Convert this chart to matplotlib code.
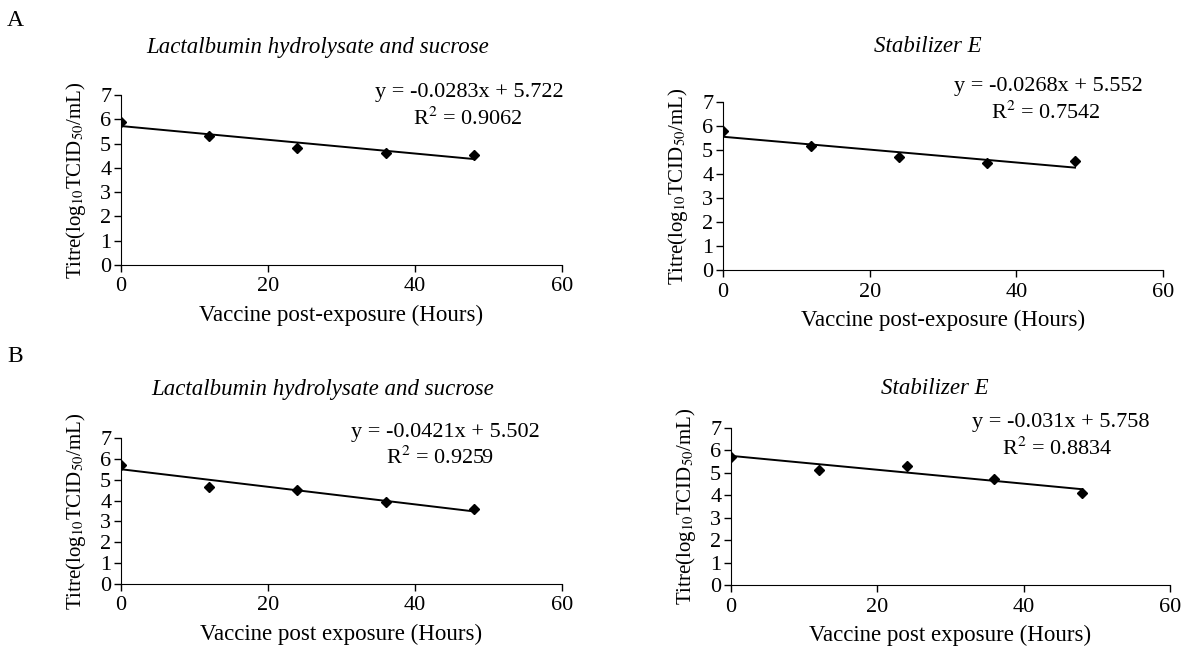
import numpy as np
import matplotlib
matplotlib.use('Agg')
import matplotlib.pyplot as plt

plt.rcParams['font.family'] = 'Liberation Serif'
plt.rcParams['mathtext.fontset'] = 'stix'

hours = [0, 12, 24, 36, 48]

titres_a_lac = [5.9, 5.3, 4.8, 4.63, 4.53]
titres_a_stab = [5.8, 5.15, 4.7, 4.45, 4.55]
titres_b_lac = [5.7, 4.63, 4.53, 3.95, 3.6]
titres_b_stab = [5.7, 5.13, 5.3, 4.72, 4.1]

slopes = [-0.0283, -0.0268, -0.0421, -0.031]
intercepts = [5.722, 5.552, 5.502, 5.758]
eq_labels = ['y = -0.0283x + 5.722', 'y = -0.0268x + 5.552',
             'y = -0.0421x + 5.502', 'y = -0.031x + 5.758']
r2_labels = ['R$^2$ = 0.9062', 'R$^2$ = 0.7542', 'R$^2$ = 0.9259', 'R$^2$ = 0.8834']

titles = ['Lactalbumin hydrolysate and sucrose', 'Stabilizer E',
          'Lactalbumin hydrolysate and sucrose', 'Stabilizer E']
xlabels = ['Vaccine post-exposure (Hours)', 'Vaccine post-exposure (Hours)',
           'Vaccine post exposure (Hours)', 'Vaccine post exposure (Hours)']
series = [titres_a_lac, titres_a_stab, titres_b_lac, titres_b_stab]

W, H = 1195, 648
fig = plt.figure(figsize=(W / 100, H / 100), dpi=100)

# axes boxes in pixels: left, right, top(y=7), bottom(y=0)
boxes = [(121, 562, 95, 265), (723, 1163, 102, 270),
         (121, 562, 438, 584), (731, 1170, 428, 585)]
title_pos = [(318, 47), (928, 47), (323, 389), (935, 389)]
eq_pos = [(564, 92), (1143, 87), (540, 432), (1150, 423)]
r2_pos = [(468, 119), (1046, 113), (440, 458), (1057, 449)]

for i in range(4):
    l, r, t, b = boxes[i]
    ax = fig.add_axes([l / W, 1 - b / H, (r - l) / W, (b - t) / H])
    ax.plot(hours, series[i], 'kD', ms=5)
    xf = np.array([0, 48])
    ax.plot(xf, slopes[i] * xf + intercepts[i], 'k-', lw=1.4)
    ax.set_xlim(0, 60)
    ax.set_ylim(0, 7)
    ax.set_xticks([0, 20, 40, 60])
    ax.set_yticks(range(8))
    ax.spines['top'].set_visible(False)
    ax.spines['right'].set_visible(False)
    ax.tick_params(labelsize=16, direction='out', length=5, width=1, pad=2)
    ax.tick_params(axis='x', pad=4)
    ax.set_xlabel(xlabels[i], fontsize=16.5, labelpad=6)
    ax.set_ylabel('Titre(log$_{10}$TCID$_{50}$/mL)', fontsize=15, labelpad=9)
    tx, ty = title_pos[i]
    fig.text(tx / W, 1 - ty / H, titles[i], fontsize=16.5, style='italic',
             ha='center', va='center')
    ex, ey = eq_pos[i]
    fig.text(ex / W, 1 - ey / H, eq_labels[i], fontsize=16, ha='right', va='center')
    rx, ry = r2_pos[i]
    fig.text(rx / W, 1 - ry / H, r2_labels[i], fontsize=16, ha='center', va='center')

fig.text(15 / W, 1 - 20 / H, 'A', fontsize=17, ha='center', va='center')
fig.text(15 / W, 1 - 357 / H, 'B', fontsize=17, ha='center', va='center')

fig.savefig('out.png', dpi=100)
